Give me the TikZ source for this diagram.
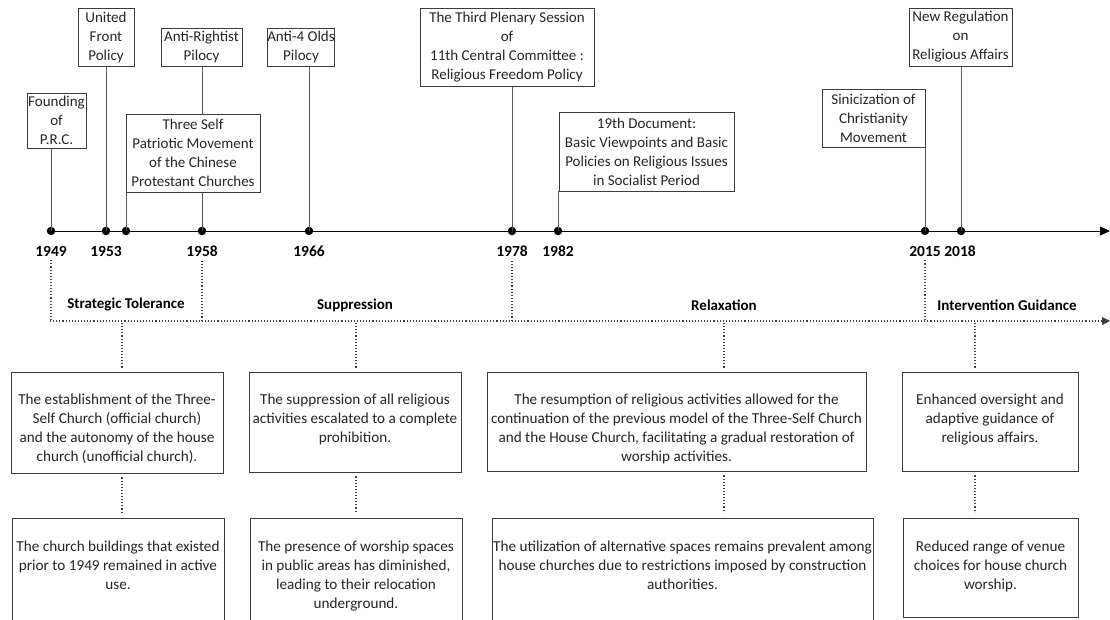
\documentclass[tikz,border=0pt]{standalone}
\usepackage{fontspec}
\setmainfont{Carlito}
\usetikzlibrary{arrows.meta}
\definecolor{txt}{HTML}{262626}
\definecolor{boxgray}{HTML}{3C3C3C}
\definecolor{stemgray}{HTML}{595959}
\definecolor{dotgray}{HTML}{404040}
\tikzset{
 tbox/.style={draw=boxgray, line width=0.8pt, fill=white, inner sep=0pt, align=center, text=txt, font=\fontsize{15}{19}\selectfont},
 rbox/.style={draw=boxgray, line width=0.8pt, fill=white, inner sep=0pt},
 rtext/.style={inner sep=0pt, align=center, text=txt, font=\fontsize{15.2}{19.2}\selectfont, anchor=north},
 yearlbl/.style={font=\bfseries\fontsize{15.5}{18}\selectfont, inner sep=1pt, text=black},
 phase/.style={font=\bfseries\fontsize{15}{18}\selectfont, inner sep=1pt, text=black},
 stem/.style={draw=stemgray, line width=0.9pt},
 tdot/.style={circle, fill=black, inner sep=0pt, minimum size=8.5pt},
 dotline/.style={draw=dotgray, line width=1.1pt, dash pattern=on 1.1pt off 2pt},
}
\begin{document}
\begin{tikzpicture}[x=1pt,y=-1pt]
\useasboundingbox (0,0) rectangle (1110,619);
% timeline
\coordinate (tls) at (47,231);
\coordinate (tle) at (1110,231);
\draw[line width=1pt, -{Triangle[length=10pt,width=9pt]}] (tls) -- (tle);
% dots
\node[tdot] (d1949) at (51,231) {};
\node[tdot] (d1953) at (106,231) {};
\node[tdot] (d1954) at (126,231) {};
\node[tdot] (d1958) at (202,231) {};
\node[tdot] (d1966) at (309,231) {};
\node[tdot] (d1978) at (512,231) {};
\node[tdot] (d1982) at (558,231) {};
\node[tdot] (d2015) at (925,231) {};
\node[tdot] (d2018) at (961,231) {};
% top boxes (positions)
\coordinate (pF) at (56.5,120.5);
\coordinate (pU) at (106,37);
\coordinate (pA) at (201.5,47);
\coordinate (pT) at (193,153);
\coordinate (pO) at (301,47);
\coordinate (pP) at (507,47);
\coordinate (pN) at (646.5,151.5);
\coordinate (pS) at (873.5,118);
\coordinate (pR) at (960.5,37);
% stems (behind boxes)
\draw[stem] (d1949.center) -- (d1949.center |- 0,148);
\draw[stem] (d1953.center) -- (d1953.center |- 0,66);
\draw[stem] (d1958.center) -- (d1958.center |- 0,66);
\draw[stem] (d1966.center) -- (d1966.center |- 0,66);
\draw[stem] (d1978.center) -- (d1978.center |- 0,86);
\draw[stem] (d1982.center) -- (d1982.center |- 0,191);
\draw[stem] (d2015.center) -- (d2015.center |- 0,147);
\draw[stem] (d2018.center) -- (d2018.center |- 0,66);
\draw[stem] (d1954.center) -- (d1954.center |- 0,192);
% boxes
\node[tbox, minimum width=59pt, minimum height=55pt] (bF) at (pF) {Founding\\of\\P.R.C.};
\node[tbox, minimum width=56pt, minimum height=58pt] (bU) at (pU) {United\\Front\\Policy};
\node[tbox, minimum width=81pt, minimum height=38pt] (bA) at (pA) {Anti-Rightist\\Pilocy};
\node[tbox, minimum width=134pt, minimum height=78pt] (bT) at (pT) {Three Self\\Patriotic Movement\\of the Chinese\\Protestant Churches};
\node[tbox, minimum width=66pt, minimum height=38pt] (bO) at (pO) {Anti-4 Olds\\Pilocy};
\node[tbox, minimum width=174pt, minimum height=78pt] (bP) at (pP) {The Third Plenary Session\\of\\11th Central Committee :\\Religious Freedom Policy};
\node[tbox, minimum width=175pt, minimum height=79pt] (bN) at (pN) {19th Document:\\Basic Viewpoints and Basic\\Policies on Religious Issues\\in Socialist Period};
\node[tbox, minimum width=103pt, minimum height=58pt] (bS) at (pS) {Sinicization of\\Christianity\\Movement};
\node[tbox, minimum width=103pt, minimum height=58pt] (bR) at (pR) {New Regulation\\on\\Religious Affairs};
% year labels
\node[yearlbl] (y1949) at (51,251) {1949};
\node[yearlbl] (y1953) at (106,251) {1953};
\node[yearlbl] (y1958) at (202,251) {1958};
\node[yearlbl] (y1966) at (309,251) {1966};
\node[yearlbl] (y1978) at (512,251) {1978};
\node[yearlbl] (y1982) at (558,251) {1982};
\node[yearlbl] (y2015) at (925,251) {2015};
\node[yearlbl] (y2018) at (960,251) {2018};
% phase line
\coordinate (phs) at (50,321);
\coordinate (phe) at (1110,321);
\draw[dotline, -{Triangle[length=8pt,width=8pt]}] (phs) -- (phe);
\draw[dotline, shorten <=3pt] (y1949.south) -- (y1949.south |- phs);
\draw[dotline, shorten <=3pt] (y1958.south) -- (y1958.south |- phs);
\draw[dotline, shorten <=3pt] (y1978.south) -- (y1978.south |- phs);
\draw[dotline, shorten <=3pt] (y2015.south) -- (y2015.south |- phs);
% phase labels
\node[phase] (pST) at (126,305) {Strategic Tolerance};
\node[phase] (pSU) at (355,305) {Suppression};
\node[phase] (pRE) at (724,305) {Relaxation};
\node[phase] (pIG) at (1007,305) {Intervention Guidance};
% row 1 boxes
\node[rbox, minimum width=212pt, minimum height=101pt] (b1) at (117,422.5) {};
\node[rbox, minimum width=212pt, minimum height=100pt] (b2) at (355,422) {};
\node[rbox, minimum width=379pt, minimum height=99pt] (b3) at (676.5,421.5) {};
\node[rbox, minimum width=176pt, minimum height=99pt] (b4) at (990,421.5) {};
\node[rtext] (t1) at (117,393.5) {The establishment of the Three-\\Self Church (official church)\\and the autonomy of the house\\church (unofficial church).};
\node[rtext] (t2) at (355,393.5) {The suppression of all religious\\activities escalated to a complete\\prohibition.};
\node[rtext] (t3) at (676.5,393.5) {The resumption of religious activities allowed for the\\continuation of the previous model of the Three-Self Church\\and the House Church, facilitating a gradual restoration of\\worship activities.};
\node[rtext] (t4) at (990,393.5) {Enhanced oversight and\\adaptive guidance of\\religious affairs.};
% row 2 boxes
\node[rbox, minimum width=212pt, minimum height=110pt] (c1) at (118,573) {};
\node[rbox, minimum width=212pt, minimum height=110pt] (c2) at (356,573) {};
\node[rbox, minimum width=381pt, minimum height=110pt] (c3) at (682.5,573) {};
\node[rbox, minimum width=175pt, minimum height=99.5pt] (c4) at (990.5,567.75) {};
\node[rtext] (s1) at (118,540.5) {The church buildings that existed\\prior to 1949 remained in active\\use.};
\node[rtext] (s2) at (356,540.5) {The presence of worship spaces\\in public areas has diminished,\\leading to their relocation\\underground.};
\node[rtext] (s3) at (682.5,540.5) {The utilization of alternative spaces remains prevalent among\\house churches due to restrictions imposed by construction\\authorities.};
\node[rtext] (s4) at (990.5,540.5) {Reduced range of venue\\choices for house church\\worship.};
% dotted connectors
\coordinate (q1) at (122,321);
\coordinate (q2) at (356,321);
\coordinate (q3) at (724,321);
\coordinate (q4) at (975,321);
\draw[dotline, shorten <=2pt, shorten >=4pt] (q1) -- (q1 |- b1.north);
\draw[dotline, shorten <=2pt, shorten >=4pt] (q2) -- (q2 |- b2.north);
\draw[dotline, shorten <=2pt, shorten >=4pt] (q3) -- (q3 |- b3.north);
\draw[dotline, shorten <=2pt, shorten >=4pt] (q4) -- (q4 |- b4.north);
\draw[dotline, shorten <=4pt, shorten >=5pt] (q1 |- b1.south) -- (q1 |- c1.north);
\draw[dotline, shorten <=4pt, shorten >=5pt] (q2 |- b2.south) -- (q2 |- c2.north);
\draw[dotline, shorten <=4pt, shorten >=5pt] (q3 |- b3.south) -- (q3 |- c3.north);
\draw[dotline, shorten <=4pt, shorten >=5pt] (q4 |- b4.south) -- (q4 |- c4.north);
\end{tikzpicture}
\end{document}
